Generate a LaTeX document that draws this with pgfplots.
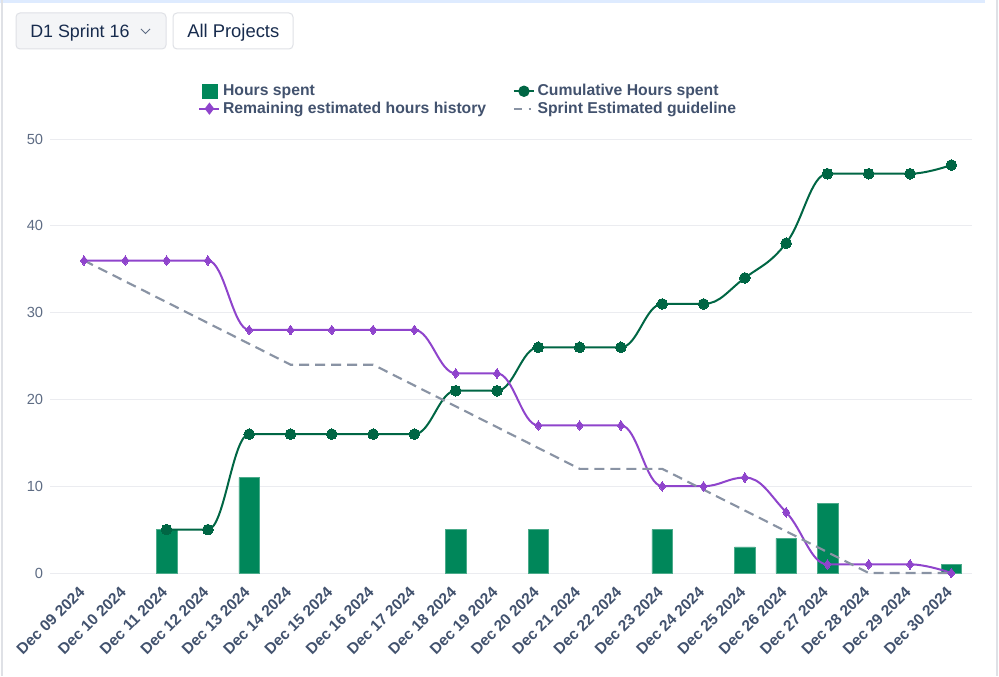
\documentclass[border=0pt]{standalone}
\usepackage{pgfplots}
\pgfplotsset{compat=1.18}
\usepackage{fontspec}
\setmainfont{Liberation Sans}

\definecolor{barGreen}{RGB}{0,135,90}
\definecolor{cumGreen}{RGB}{0,102,68}
\definecolor{remPurple}{RGB}{143,68,204}
\definecolor{guideGray}{RGB}{137,147,164}
\definecolor{gridGray}{RGB}{235,236,240}
\definecolor{labelNavy}{RGB}{66,82,110}
\definecolor{tickGray}{RGB}{94,108,132}
\definecolor{btnFill}{RGB}{244,245,247}
\definecolor{btnBorder}{RGB}{223,225,230}
\definecolor{textDark}{RGB}{23,43,77}
\definecolor{frameBlue}{RGB}{222,235,255}

% Monotone cubic spline (control points at 0.4 of the neighbour spacing,
% clamped so that flat stretches stay flat and nothing overshoots).
\makeatletter
\def\pgfplothandlermonotone{%
  \def\pgf@plotstreamstart{%
    \global\let\pgf@plotstreampoint=\ms@first
    \global\let\pgf@plotstreamspecial=\@gobble
    \global\let\pgf@plotstreamend=\ms@end
    \gdef\ms@n{0}%
  }%
}
\def\ms@first#1{%
  \pgf@plot@first@action{#1}%
  \pgf@process{#1}%
  \xdef\ms@ax{\strip@pt\pgf@x}\xdef\ms@ay{\strip@pt\pgf@y}%
  \xdef\ms@rx{\ms@ax}\xdef\ms@ry{\ms@ay}%
  \gdef\ms@n{1}%
  \global\let\pgf@plotstreampoint=\ms@second
}
\def\ms@second#1{%
  \pgf@process{#1}%
  \xdef\ms@bx{\strip@pt\pgf@x}\xdef\ms@by{\strip@pt\pgf@y}%
  \gdef\ms@n{2}%
  \global\let\pgf@plotstreampoint=\ms@next
}
\def\ms@next#1{%
  \pgf@process{#1}%
  \edef\ms@cx{\strip@pt\pgf@x}\edef\ms@cy{\strip@pt\pgf@y}%
  \pgfmathsetmacro\ms@lx{(1.5*\ms@bx+\ms@ax)/2.5}%
  \pgfmathsetmacro\ms@ly{(1.5*\ms@by+\ms@ay)/2.5}%
  \pgfmathsetmacro\ms@Rx{(1.5*\ms@bx+\ms@cx)/2.5}%
  \pgfmathsetmacro\ms@Ry{(1.5*\ms@by+\ms@cy)/2.5}%
  \pgfmathsetmacro\ms@corr{(\ms@Ry-\ms@ly)*((\ms@Rx-\ms@bx)/(\ms@Rx-\ms@lx))+\ms@by-\ms@Ry}%
  \pgfmathsetmacro\ms@ly{\ms@ly+\ms@corr}%
  \pgfmathsetmacro\ms@Ry{\ms@Ry+\ms@corr}%
  \pgfmathsetmacro\ms@hi{max(\ms@ay,\ms@by)}%
  \pgfmathsetmacro\ms@lo{min(\ms@ay,\ms@by)}%
  \ifdim\ms@ly pt>\ms@hi pt
    \let\ms@ly\ms@hi \pgfmathsetmacro\ms@Ry{2*\ms@by-\ms@ly}%
  \else\ifdim\ms@ly pt<\ms@lo pt
    \let\ms@ly\ms@lo \pgfmathsetmacro\ms@Ry{2*\ms@by-\ms@ly}%
  \fi\fi
  \pgfmathsetmacro\ms@hi{max(\ms@cy,\ms@by)}%
  \pgfmathsetmacro\ms@lo{min(\ms@cy,\ms@by)}%
  \ifdim\ms@Ry pt>\ms@hi pt
    \let\ms@Ry\ms@hi \pgfmathsetmacro\ms@ly{2*\ms@by-\ms@Ry}%
  \else\ifdim\ms@Ry pt<\ms@lo pt
    \let\ms@Ry\ms@lo \pgfmathsetmacro\ms@ly{2*\ms@by-\ms@Ry}%
  \fi\fi
  \pgfpathcurveto{\pgfqpoint{\ms@rx pt}{\ms@ry pt}}%
    {\pgfqpoint{\ms@lx pt}{\ms@ly pt}}{\pgfqpoint{\ms@bx pt}{\ms@by pt}}%
  \xdef\ms@rx{\ms@Rx}\xdef\ms@ry{\ms@Ry}%
  \xdef\ms@ax{\ms@bx}\xdef\ms@ay{\ms@by}%
  \xdef\ms@bx{\ms@cx}\xdef\ms@by{\ms@cy}%
}
\def\ms@end{%
  \ifnum\ms@n>1
    \pgfpathcurveto{\pgfqpoint{\ms@rx pt}{\ms@ry pt}}%
      {\pgfqpoint{\ms@bx pt}{\ms@by pt}}{\pgfqpoint{\ms@bx pt}{\ms@by pt}}%
  \fi
}
\tikzset{monotone spline/.code={\let\tikz@plot@handler=\pgfplothandlermonotone}}
\makeatother

% Sprint data, one row per day (x = day index, Dec 09 = 0)
\pgfplotstableread{
x  hours
2  5
4  11
9  5
11 5
14 5
16 3
17 4
18 8
21 1
}\hoursspent
\pgfplotstableread{
x  cum
2  5
3  5
4  16
5  16
6  16
7  16
8  16
9  21
10 21
11 26
12 26
13 26
14 31
15 31
16 34
17 38
18 46
19 46
20 46
21 47
}\cumulative
\pgfplotstableread{
x  rem
0  36
1  36
2  36
3  36
4  28
5  28
6  28
7  28
8  28
9  23
10 23
11 17
12 17
13 17
14 10
15 10
16 11
17 7
18 1
19 1
20 1
21 0
}\remaining
\pgfplotstableread{
x  guide
0  36
1  33.6
2  31.2
3  28.8
4  26.4
5  24
6  24
7  24
8  21.6
9  19.2
10 16.8
11 14.4
12 12
13 12
14 12
15 9.6
16 7.2
17 4.8
18 2.4
19 0
20 0
21 0
}\guideline

\begin{document}
\begin{tikzpicture}[x=0.75pt,y=0.75pt]
\path[use as bounding box] (0,0) rectangle (999,676);
\clip (0,0) rectangle (999,676);
\fill[white] (0,0) rectangle (999,676);
% page frame
\fill[frameBlue] (0,673) rectangle (985,676);
\draw[btnBorder, line width=1.5pt] (2,0) -- (2,676);
\draw[btnBorder, line width=1.5pt] (997,0) -- (997,676);

% selector buttons
\draw[btnBorder, fill=btnFill, rounded corners=3pt, line width=0.75pt] (16,627) rectangle (166,663);
\node[anchor=west, inner sep=0pt, font=\fontsize{13.4}{15}\selectfont, text=textDark] at (30,643.5) {D1 Sprint 16};
\draw[tickGray, line width=0.7pt] (141,647) -- (145.5,642.5) -- (150,647);
\draw[btnBorder, fill=white, rounded corners=3pt, line width=0.75pt] (173,627) rectangle (293,663);
\node[anchor=west, inner sep=0pt, font=\fontsize{13.8}{15}\selectfont, text=textDark] at (187,643.5) {All Projects};

\begin{axis}[
  at={(37.5pt,77.25pt)}, anchor=south west,
  scale only axis, width=691.5pt, height=325.5pt,
  xmin=-0.823, xmax=21.5, ymin=0, ymax=50,
  axis lines*=left,
  x axis line style={draw=gridGray, line width=0.75pt, -},
  y axis line style={draw=none},
  ytick={0,10,...,50},
  ytick style={draw=none},
  ymajorgrids, grid style={gridGray, line width=0.75pt},
  yticklabel style={font=\fontsize{11}{12}\selectfont, text=tickGray, inner sep=0pt, xshift=-5pt},
  /pgf/number format/assume math mode=true,
  xtick={0,...,21},
  xticklabels={Dec 09 2024,Dec 10 2024,Dec 11 2024,Dec 12 2024,Dec 13 2024,Dec 14 2024,Dec 15 2024,Dec 16 2024,Dec 17 2024,Dec 18 2024,Dec 19 2024,Dec 20 2024,Dec 21 2024,Dec 22 2024,Dec 23 2024,Dec 24 2024,Dec 25 2024,Dec 26 2024,Dec 27 2024,Dec 28 2024,Dec 29 2024,Dec 30 2024},
  x tick style={draw=none},
  xticklabel style={font=\bfseries\fontsize{11.6}{13}\selectfont, text=labelNavy, xshift=-4.5pt, yshift=-9pt, rotate=45, anchor=north east, inner sep=0pt},
  extra x ticks={-0.5,0.5,...,21.5},
  extra x tick labels={},
  extra x tick style={major tick length=7.5pt, xtick align=outside, tick style={draw=gridGray, line width=0.75pt}, xmajorgrids=false},
  clip=false,
  legend columns=2,
  legend cell align=left,
  legend style={at={(0.454,1.09)}, anchor=center, draw=none, fill=none,
    font=\bfseries\fontsize{11.8}{13.5}\selectfont, text=labelNavy,
    /tikz/every even column/.append style={column sep=18pt},
    row sep=-1pt},
]
\addplot[ybar, bar width=0.5, fill=barGreen, draw=barGreen!70!white, line width=0.4pt,
  legend image code/.code={\fill[barGreen] (2pt,-5.6pt) rectangle (13.2pt,5.6pt);}]
  table[x=x, y=hours] {\hoursspent};
\addlegendentry{Hours spent}
\addplot[monotone spline, cumGreen, line width=1.5pt, mark=*, mark size=4pt,
  mark options={fill=cumGreen, draw=cumGreen, line width=0pt},
  legend image code/.code={\draw[cumGreen, line width=1.5pt] (0pt,0pt) -- (15pt,0pt); \fill[cumGreen] (7.5pt,0pt) circle (3.5pt);}]
  table[x=x, y=cum] {\cumulative};
\addlegendentry{Cumulative Hours spent}
\addplot[monotone spline, remPurple, line width=1.5pt, mark=diamond*, mark size=3.6pt,
  mark options={fill=remPurple, draw=remPurple, line width=0pt},
  legend image code/.code={\draw[remPurple, line width=1.5pt] (0pt,0pt) -- (15pt,0pt); \fill[remPurple] (7.5pt,3.4pt) -- (10.1pt,0pt) -- (7.5pt,-3.4pt) -- (4.9pt,0pt) -- cycle;}]
  table[x=x, y=rem] {\remaining};
\addlegendentry{Remaining estimated hours history}
\addplot[guideGray, line width=1.6pt, dash pattern=on 7.5pt off 4.5pt, mark=none,
  legend image code/.code={\draw[guideGray, line width=1.6pt, dash pattern=on 6pt off 5pt] (0pt,0pt) -- (13pt,0pt);}]
  table[x=x, y=guide] {\guideline};
\addlegendentry{Sprint Estimated guideline}
\end{axis}
\end{tikzpicture}
\end{document}
